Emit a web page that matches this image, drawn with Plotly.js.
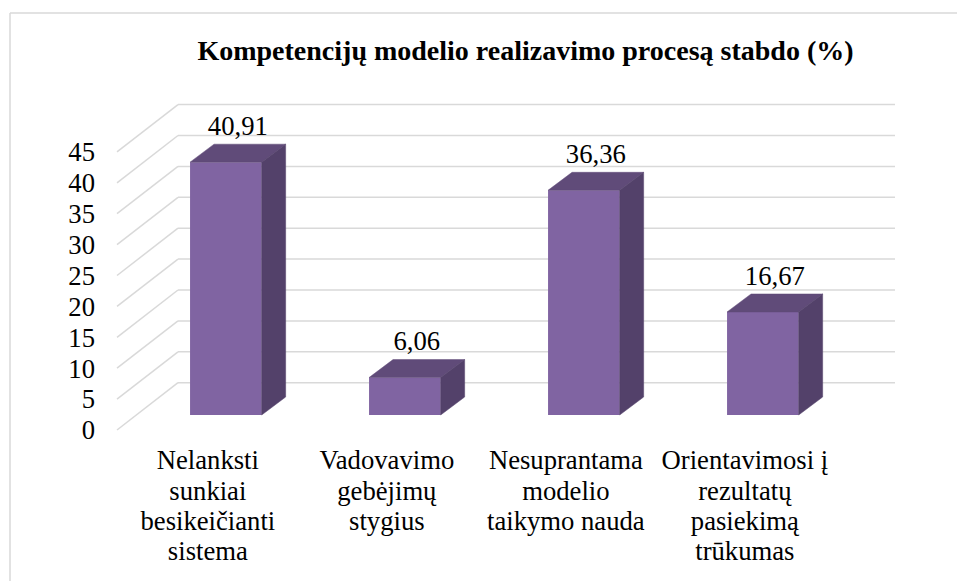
<!DOCTYPE html>
<html>
<head>
<meta charset="utf-8">
<script src="https://cdn.plot.ly/plotly-3.0.1.min.js"></script>
<style>html,body{margin:0;padding:0;background:#fff;}#chart{width:957px;height:581px;}</style>
</head>
<body>
<div id="chart"></div>
<script>
// ---- data ----
const chartTitle = 'Kompetencijų modelio realizavimo procesą stabdo (%)';
const categories = [
  'Nelanksti\nsunkiai\nbesikeičianti\nsistema',
  'Vadovavimo\ngebėjimų\nstygius',
  'Nesuprantama\nmodelio\ntaikymo nauda',
  'Orientavimosi į\nrezultatų\npasiekimą\ntrūkumas'
];
const values = [40.91, 6.06, 36.36, 16.67];
const yTicks = [0, 5, 10, 15, 20, 25, 30, 35, 40, 45];

// ---- geometry (layout only) ----
const W = 957, H = 581;
const PX = 6.18;          // pixels per unit
const X0 = 225.85, XS = 179; // pixel of category 0, pixels per category
const BASE = 415;         // pixel row of bar base (front face)
const BOTTOM = 445;       // bottom of plotting domain
const BAR_W = 0.4;
const DX = 24 / XS, DY = 18 / PX;      // bar depth
const BACK_OFF = (BASE - 382.7) / PX;  // back wall offset
const FRONT_OFF = (BASE - 430) / PX;   // front plane offset
const xBackL = (178 - X0) / XS, xBackR = (895 - X0) / XS, xFrontL = (117 - X0) / XS;
const LABEL_SHIFT = -18 / XS;
const LABEL_GAP = 16 / PX;

const cFront = '#8064a2', cTop = '#604b79', cSide = '#53416a', cGrid = '#d9d9d9';
const serif = 'Liberation Serif';

const xs = values.map((v, i) => i);
const traces = [];
traces.push({
  type: 'bar', x: xs, y: values, width: BAR_W,
  marker: {color: cFront, line: {width: 0}}, hoverinfo: 'skip', xaxis: 'x', yaxis: 'y'
});
values.forEach((v, i) => {
  const l = i - BAR_W / 2, r = i + BAR_W / 2;
  traces.push({
    type: 'scatter', mode: 'lines', fill: 'toself', fillcolor: cTop,
    x: [l, r, r + DX, l + DX, l], y: [v, v, v + DY, v + DY, v],
    line: {width: 0.5, color: cTop}, hoverinfo: 'skip'
  });
  traces.push({
    type: 'scatter', mode: 'lines', fill: 'toself', fillcolor: cSide,
    x: [r, r + DX, r + DX, r, r], y: [0, DY, v + DY, v, 0],
    line: {width: 0.5, color: cSide}, hoverinfo: 'skip'
  });
});
traces.push({
  type: 'scatter', mode: 'text',
  x: xs.map(i => i + DX / 2), y: values.map(v => v + DY + LABEL_GAP),
  text: values.map(v => v.toFixed(2).replace('.', ',')),
  textposition: 'middle center',
  textfont: {family: serif, size: 26.67, color: '#000000'}, hoverinfo: 'skip'
});

const shapes = [];
yTicks.forEach(t => {
  shapes.push({type: 'line', xref: 'x', yref: 'y', layer: 'below',
    x0: xBackL, x1: xBackR, y0: t + BACK_OFF, y1: t + BACK_OFF,
    line: {color: cGrid, width: 1.5}});
  shapes.push({type: 'line', xref: 'x', yref: 'y', layer: 'below',
    x0: xFrontL, x1: xBackL, y0: t + FRONT_OFF, y1: t + BACK_OFF,
    line: {color: cGrid, width: 1.5}});
});
// chart frame
shapes.push({type: 'line', xref: 'paper', yref: 'paper', x0: 10 / W, x1: 10 / W, y0: 0, y1: 1 - 13 / H, line: {color: cGrid, width: 1.5}});
shapes.push({type: 'line', xref: 'paper', yref: 'paper', x0: 10 / W, x1: 1, y0: 1 - 13 / H, y1: 1 - 13 / H, line: {color: cGrid, width: 1.5}});

const dom = [1 - BOTTOM / H, 1];
const layout = {
  width: W, height: H,
  margin: {l: 0, r: 0, t: 0, b: 0, pad: 0},
  paper_bgcolor: '#ffffff', plot_bgcolor: 'rgba(0,0,0,0)',
  showlegend: false,
  font: {family: serif, color: '#000000'},
  title: {
    text: chartTitle, x: 525.5 / W, xanchor: 'center', xref: 'paper',
    y: 1 - 50 / H, yanchor: 'middle', yref: 'paper',
    font: {family: serif, size: 28, color: '#000000', weight: 'bold'}
  },
  xaxis: {
    range: [(0 - X0) / XS, (W - X0) / XS], domain: [0, 1],
    tickvals: xs.map(i => i + LABEL_SHIFT),
    ticktext: categories.map(c => c.split('\n').map(s => '<span style="font-size:26.67px">' + s + '</span>').join('<br>')),
    tickfont: {family: serif, size: 23.3, color: '#000000'},
    ticks: '', showline: false, showgrid: false, zeroline: false, fixedrange: true
  },
  yaxis: {
    range: [(BASE - BOTTOM) / PX, BASE / PX], domain: dom,
    anchor: 'free', position: 95 / W, side: 'left',
    tickvals: yTicks.map(t => t + FRONT_OFF), ticktext: yTicks.map(String),
    tickfont: {family: serif, size: 26.67, color: '#000000'},
    ticks: '', showline: false, showgrid: false, zeroline: false, fixedrange: true
  },
  shapes: shapes
};
Plotly.newPlot('chart', traces, layout, {staticPlot: true, displayModeBar: false});
</script>
</body>
</html>
